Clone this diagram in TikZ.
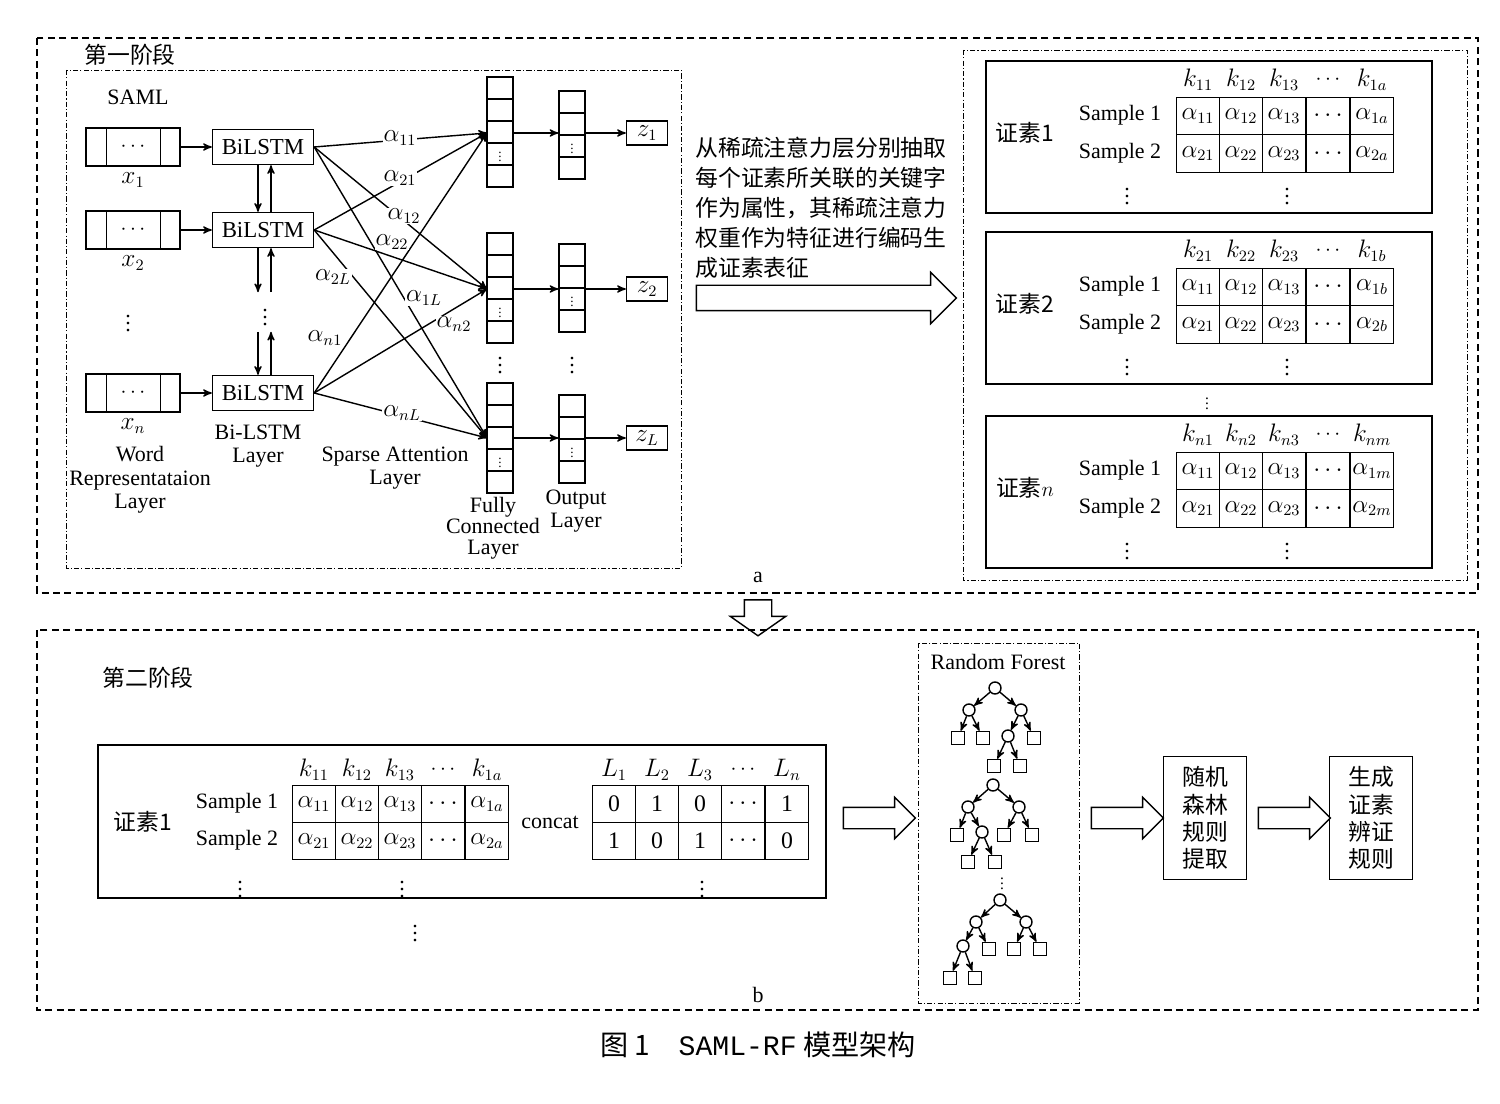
\documentclass[tikz,border=0pt]{standalone}
\usepackage{fontspec}
\setmainfont{Liberation Serif}
\newfontfamily\cjk{Noto Sans CJK SC}
\newfontfamily\capmono{Liberation Mono}
\usetikzlibrary{arrows,positioning,shapes.arrows,calc}
\tikzset{
    >=stealth',
    base/.style={font=\fontsize{12.5pt}{14pt}\selectfont},
    zh/.style={font=\cjk\fontsize{13pt}{17pt}\selectfont},
    dashbox/.style={draw, thick, dash pattern=on 4pt off 2.5pt},
    dotbox/.style={draw, dash pattern=on 3pt off 1.2pt on 0.6pt off 1.2pt},
    inbox/.style={draw, thick, minimum width=1.88cm, minimum height=0.76cm, inner sep=0},
    lstm/.style={draw, thick, minimum width=2.02cm, minimum height=0.7cm, inner sep=0,
        font=\fontsize{13pt}{15pt}\selectfont},
    fccell/.style={draw, thick, minimum width=0.52cm, minimum height=0.44cm, inner sep=0},
    zbox/.style={draw, thick, minimum width=0.82cm, minimum height=0.48cm, inner sep=0},
    cell/.style={draw, thick, minimum width=0.86cm, minimum height=0.75cm, inner sep=0,
        font=\fontsize{13.5pt}{14pt}\selectfont},
    att/.style={->, thick},
    alab/.style={fill=white, inner sep=0.5pt, font=\fontsize{13.5pt}{14pt}\selectfont},
    hollow/.style={single arrow, draw, thick, inner xsep=0, single arrow tip angle=90},
    rulebox/.style={draw, thick, minimum width=1.66cm, minimum height=2.46cm, align=center,
        font=\cjk\fontsize{13pt}{15.5pt}\selectfont},
    leaf/.style={draw, thick, minimum size=0.26cm, inner sep=0},
    split/.style={draw, thick, circle, minimum size=0.24cm, inner sep=0},
    tree/.style={->, thick},
}
\begin{document}
\begin{tikzpicture}[x=0.02cm, y=-0.02cm, every node/.style={base}]
    \useasboundingbox (0,0) rectangle (1500,1104);

    % stage one
    \draw[dashbox] (37,38) rectangle (1478,593);
    \node[zh] at (130,55) {第一阶段};
    \draw[dotbox] (66,70) rectangle (681,568);
    \node at (138,97) {SAML};

    % inputs and BiLSTM
    \foreach \i/\y/\s in {1/147/1, 2/230/2, 3/393/n}{
        \node[inbox] (x\i) at (133,\y) {$\cdots$};
        \draw[thick] ([xshift=0.42cm]x\i.north west) -- ([xshift=0.42cm]x\i.south west);
        \draw[thick] ([xshift=-0.4cm]x\i.north east) -- ([xshift=-0.4cm]x\i.south east);
        \node[below=0pt of x\i, font=\fontsize{13.5pt}{14pt}\selectfont] {$x_\s$};
        \node[lstm] (b\i) at (263,\y) {BiLSTM};
        \draw[->, thick] (x\i) -- (b\i);
    }
    \node at (128,318) {$\vdots$};
    \node (bd) at (265,312) {$\vdots$};
    \draw[->, thick] ([xshift=-0.1cm]b1.south) -- ([xshift=-0.1cm]b2.north);
    \draw[<-, thick] ([xshift=0.16cm]b1.south) -- ([xshift=0.16cm]b2.north);
    \draw[->, thick] ([xshift=-0.1cm]b2.south) -- ([xshift=-0.1cm]b2.south |- bd.north);
    \draw[->, thick] ([xshift=0.16cm]b2.south |- bd.north) -- ([xshift=0.16cm]b2.south);
    \draw[->, thick] ([xshift=-0.1cm]b3.north |- bd.south) -- ([xshift=-0.1cm]b3.north);
    \draw[->, thick] ([xshift=0.16cm]b3.north) -- ([xshift=0.16cm]b3.north |- bd.south);

    % fully connected and output columns
    \foreach \c/\y/\u/\yz in {1/77/91/133, 2/233/244/289, 3/383/395/438}{
        \foreach \i in {0,...,4}
            \node[fccell] (fc\c-\i) at (500,{\y+11+22*\i}) {};
        \node[scale=0.6] at (fc\c-3) {$\vdots$};
        \foreach \i in {0,...,3}
            \node[fccell] (out\c-\i) at (572,{\u+11+22*\i}) {};
        \node[scale=0.6] at (out\c-2) {$\vdots$};
        \coordinate (in\c) at (487,\yz);
        \node[zbox] (z\c) at (647,\yz) {};
        \draw[->, thick] (in\c -| fc\c-2.east) -- (in\c -| out\c-1.west);
        \draw[->, thick] (in\c -| out\c-1.east) -- (z\c);
    }
    \node[font=\fontsize{13.5pt}{14pt}\selectfont] at (z1) {$z_1$};
    \node[font=\fontsize{13.5pt}{14pt}\selectfont] at (z2) {$z_2$};
    \node[font=\fontsize{13.5pt}{14pt}\selectfont] at (z3) {$z_L$};
    \node at (500,360) {$\vdots$};
    \node at (572,360) {$\vdots$};

    % sparse attention
    \foreach \i in {1,2,3}
        \foreach \c in {1,2,3}
            \draw[att] (b\i.east) -- (in\c);
    \node[alab] at (400,138) {$\alpha_{11}$};
    \node[alab] at (400,178) {$\alpha_{21}$};
    \node[alab] at (404,216) {$\alpha_{12}$};
    \node[alab] at (392,242) {$\alpha_{22}$};
    \node[alab] at (333,277) {$\alpha_{2L}$};
    \node[alab] at (424,298) {$\alpha_{1L}$};
    \node[alab] at (325,338) {$\alpha_{n1}$};
    \node[alab] at (454,324) {$\alpha_{n2}$};
    \node[alab] at (402,413) {$\alpha_{nL}$};

    % layer names
    \node[align=center, font=\fontsize{12.5pt}{13.5pt}\selectfont] at (140,480) {Word\\Representataion\\Layer};
    \node[align=center, font=\fontsize{12.5pt}{13.5pt}\selectfont] at (258,446) {Bi-LSTM\\Layer};
    \node[align=center, font=\fontsize{12.5pt}{13.5pt}\selectfont] at (395,468) {Sparse Attention\\Layer};
    \node[align=center, font=\fontsize{12.5pt}{12pt}\selectfont] at (493,528) {Fully\\Connected\\Layer};
    \node[align=center, font=\fontsize{12.5pt}{13.5pt}\selectfont] at (576,511) {Output\\Layer};

    % extraction text and arrow
    \node[zh, anchor=north west, align=left, inner sep=0] (desc) at (695,137)
        {从稀疏注意力层分别抽取\\每个证素所关联的关键字\\作为属性，其稀疏注意力\\权重作为特征进行编码生\\成证素表征};
    \node[hollow, minimum height=5.2cm, inner ysep=0.24cm, single arrow head extend=0.26cm] (bigarrow) at (820,298) {};

    % evidence element tables
    \draw[dotbox] (963,50) rectangle (1467,580);
    \foreach \dy/\n/\e/\ka/\kb/\kc/\kl/\la/\lb in
        {0/1/1/{11}/{12}/{13}/{1a}/{1a}/{2a},
         171/2/2/{21}/{22}/{23}/{1b}/{1b}/{2b},
         355/n/{$n$}/{n1}/{n2}/{n3}/{nm}/{1m}/{2m}}{
        \draw[thick] (986,{61+\dy}) rectangle (1432,{213+\dy});
        \node[zh] at (1025,{133+\dy}) {证素\e};
        \node at (1120,{115+\dy}) {Sample 1};
        \node at (1120,{153+\dy}) {Sample 2};
        \foreach \x/\k/\a/\b in {1198/\ka/11/21, 1241/\kb/12/22, 1284/\kc/13/23, 1372/\kl/\la/\lb}{
            \node[font=\fontsize{13.5pt}{14pt}\selectfont] at (\x,{80+\dy}) {$k_{\k}$};
            \node[cell] at (\x,{116+\dy}) {$\alpha_{\a}$};
            \node[cell] at (\x,{153.5+\dy}) {$\alpha_{\b}$};
        }
        \node at (1328,{80+\dy}) {$\cdots$};
        \node[cell, minimum width=0.88cm] at (1328,{116+\dy}) {$\cdots$};
        \node[cell, minimum width=0.88cm] at (1328,{153.5+\dy}) {$\cdots$};
        \node at (1127,{191+\dy}) {$\vdots$};
        \node at (1287,{191+\dy}) {$\vdots$};
    }
    \node[scale=0.7] at (1207,400) {$\vdots$};
    \node at (758,577) {a};
    \node[hollow, rotate=-90, minimum height=0.72cm, inner ysep=0.26cm,
        single arrow head extend=0.28cm, single arrow tip angle=110] (downarrow) at (758,613) {};

    % stage two
    \draw[dashbox] (37,630) rectangle (1478,1010);
    \node[zh] at (148,678) {第二阶段};
    \node at (758,995) {b};
    \draw[thick] (98,745) rectangle (826,898);
    \node[zh] at (143,822) {证素1};
    \node at (237,803) {Sample 1};
    \node at (237,840) {Sample 2};
    \foreach \x/\k/\a/\b/\l/\p/\q in {314/11/11/21/1/0/1, 357/12/12/22/2/1/0, 400/13/13/23/3/0/1, 487/1a/1a/2a/n/1/0}{
        \node[font=\fontsize{13.5pt}{14pt}\selectfont] at (\x,770) {$k_{\k}$};
        \node[cell] at (\x,804) {$\alpha_{\a}$};
        \node[cell] at (\x,841) {$\alpha_{\b}$};
        \node[font=\fontsize{13.5pt}{14pt}\selectfont] at ({\x+300},770) {$L_\l$};
        \node[cell] at ({\x+300},804) {\p};
        \node[cell] at ({\x+300},841) {\q};
    }
    \foreach \x in {443,743}{
        \node at (\x,770) {$\cdots$};
        \node[cell] at (\x,804) {$\cdots$};
        \node[cell] at (\x,841) {$\cdots$};
    }
    \node at (550,822) {concat};
    \node at (240,884) {$\vdots$};
    \node at (402,884) {$\vdots$};
    \node at (702,884) {$\vdots$};
    \node at (415,928) {$\vdots$};

    % random forest
    \draw[dotbox] (918,643) rectangle (1079,1003);
    \node at (998,662) {Random Forest};
    % tree 1
    \node[split] (t1r) at (995,688) {};
    \node[split] (t1a) at (969,710) {};
    \node[split] (t1b) at (1021,710) {};
    \node[leaf] (t1c) at (958,738) {};
    \node[leaf] (t1d) at (983,738) {};
    \node[split] (t1e) at (1008,736) {};
    \node[leaf] (t1f) at (1034,738) {};
    \node[leaf] (t1g) at (994,766) {};
    \node[leaf] (t1h) at (1020,766) {};
    \draw[tree] (t1r) -- (t1a); \draw[tree] (t1r) -- (t1b);
    \draw[tree] (t1a) -- (t1c); \draw[tree] (t1a) -- (t1d);
    \draw[tree] (t1b) -- (t1e); \draw[tree] (t1b) -- (t1f);
    \draw[tree] (t1e) -- (t1g); \draw[tree] (t1e) -- (t1h);
    % tree 2
    \node[split] (t2r) at (993,785) {};
    \node[split] (t2a) at (968,807) {};
    \node[split] (t2b) at (1019,807) {};
    \node[leaf] (t2c) at (957,835) {};
    \node[split] (t2d) at (982,832) {};
    \node[leaf] (t2e) at (1004,835) {};
    \node[leaf] (t2f) at (1032,835) {};
    \node[leaf] (t2g) at (968,862) {};
    \node[leaf] (t2h) at (995,862) {};
    \draw[tree] (t2r) -- (t2a); \draw[tree] (t2r) -- (t2b);
    \draw[tree] (t2a) -- (t2c); \draw[tree] (t2a) -- (t2d);
    \draw[tree] (t2b) -- (t2e); \draw[tree] (t2b) -- (t2f);
    \draw[tree] (t2d) -- (t2g); \draw[tree] (t2d) -- (t2h);
    \node[scale=0.7] at (1002,880) {$\vdots$};
    % tree 3
    \node[split] (t3r) at (1000,900) {};
    \node[split] (t3a) at (976,922) {};
    \node[split] (t3b) at (1026,922) {};
    \node[split] (t3c) at (963,946) {};
    \node[leaf] (t3d) at (989,949) {};
    \node[leaf] (t3e) at (1014,949) {};
    \node[leaf] (t3f) at (1040,949) {};
    \node[leaf] (t3g) at (950,978) {};
    \node[leaf] (t3h) at (975,978) {};
    \draw[tree] (t3r) -- (t3a); \draw[tree] (t3r) -- (t3b);
    \draw[tree] (t3a) -- (t3c); \draw[tree] (t3a) -- (t3d);
    \draw[tree] (t3b) -- (t3e); \draw[tree] (t3b) -- (t3f);
    \draw[tree] (t3c) -- (t3g); \draw[tree] (t3c) -- (t3h);

    % rules
    \node[hollow, minimum height=1.44cm, inner ysep=0.2cm, single arrow head extend=0.2cm] (arr1) at (874,818) {};
    \node[rulebox] (extract) at (1205,818) {随机\\森林\\规则\\提取};
    \node[rulebox] (rules) at (1371,818) {生成\\证素\\辨证\\规则};
    \node[hollow, minimum height=1.44cm, inner ysep=0.2cm, single arrow head extend=0.2cm] (arr2) at (1122,818) {};
    \node[hollow, minimum height=1.44cm, inner ysep=0.2cm, single arrow head extend=0.2cm] (arr3) at (1289,818) {};

    % caption
    \node[font=\cjk\fontsize{16pt}{18pt}\selectfont] at (758,1045) {图 1\quad{\capmono SAML-RF} 模型架构};
\end{tikzpicture}
\end{document}
